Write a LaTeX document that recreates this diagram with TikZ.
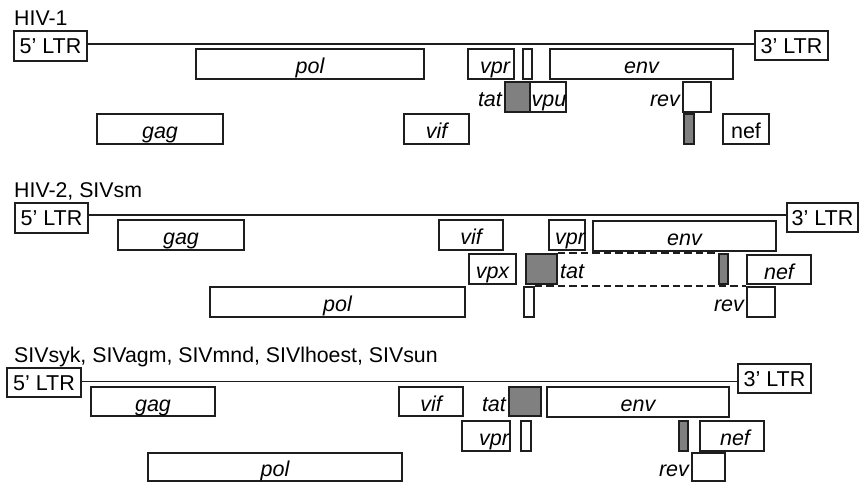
\documentclass[tikz,border=0pt]{standalone}
\usepackage{fontspec}
\setmainfont{Liberation Sans}
\definecolor{ink}{HTML}{1E1E1E}
\definecolor{geneg}{HTML}{808080}
\newcommand{\gb}[7][]{\node[gene,#1,minimum width={#5-#3},minimum height={#6-#4}] (#2) at ({(#3+#5)/2},{(#4+#6)/2}) {#7};}
\tikzset{
  gene/.style={draw=ink, line width=1.8pt, rectangle, inner sep=0pt, fill=white,
    font=\fontsize{21.5}{25}\selectfont\itshape, text height=19pt, text depth=0pt},
  ltr/.style={font=\fontsize{21.5}{25}\selectfont, text height=15.2pt},
  upright/.style={font=\fontsize{21.5}{25}\selectfont},
  graybox/.style={fill=geneg},
  lbl/.style={font=\fontsize{21.5}{25}\selectfont\itshape, text height=19pt, text depth=0pt, inner sep=0pt, inner xsep=2pt},
  ttl/.style={font=\fontsize{21.3}{25}\selectfont, inner sep=0pt, anchor=base west},
  genome/.style={line width=1.8pt, draw=ink},
  dashline/.style={line width=1.8pt, draw=ink, dash pattern=on 7.5pt off 4pt}
}
\begin{document}
\begin{tikzpicture}[x=1pt,y=-1pt]
\useasboundingbox[fill=white] (0,0) rectangle (859,482);
% ---------------- HIV-1
\node[ttl] (t1) at (14,25) {HIV-1};
\gb[ltr]{l5a}{14}{31}{87}{61}{5’ LTR}
\gb[ltr]{l3a}{755}{31}{828}{60}{3’ LTR}
\draw[genome] ([yshift=2pt]l5a.east) -- ([yshift=2pt]l5a.east -| l3a.west);
\gb{pol1}{196}{49}{424}{79}{pol}
\gb{vpr1}{468}{49}{514}{79}{\hspace*{8pt}vpr}
\gb{x1}{523}{49}{532}{79}{}
\gb{env1}{550}{49}{733}{79}{env}
\gb[graybox]{tat1}{505}{82}{530}{112}{}
\gb{vpu1}{530}{82}{566}{112}{\hspace*{2pt}vpu}
\gb{rev1}{683}{82}{711}{112}{}
\gb[graybox]{revx1}{684}{114}{694}{144}{}
\gb{gag1}{97}{114}{223}{144}{gag}
\gb{vif1}{404}{114}{469}{144}{vif}
\gb[upright]{nef1}{723}{114}{769}{144}{nef}
\node[lbl,anchor=east] (tl1) at (tat1.west) {tat};
\node[lbl,anchor=east] (rl1) at (rev1.west) {rev};
% ---------------- HIV-2, SIVsm
\node[ttl] (t2) at (14,197) {HIV-2, SIVsm};
\gb[ltr]{l5b}{15}{203}{88}{233}{5’ LTR}
\gb[ltr]{l3b}{787}{203}{858}{232}{3’ LTR}
\draw[genome] ([yshift=3pt]l5b.east) -- ([yshift=3pt]l5b.east -| l3b.west);
\gb{gag2}{118}{220}{244}{250}{gag}
\gb{vif2}{439}{220}{503}{250}{vif}
\gb{vpr2}{549}{220}{585}{250}{\hspace*{6pt}vpr}
\gb{env2}{593}{221}{776}{251}{env}
\gb{vpx2}{469}{254}{516}{284}{vpx}
\gb[graybox]{tat2}{526}{254}{557}{284}{}
\gb[graybox]{revx2}{719}{254}{728}{284}{}
\gb{nef2}{747}{255}{811}{284}{nef}
\gb{pol2}{210}{287}{465}{317}{pol}
\gb{x2}{524}{287}{534}{317}{}
\gb{rev2}{747}{287}{775}{317}{}
\node[lbl,anchor=west] (tl2) at (tat2.east) {tat};
\node[lbl,anchor=east] (rl2) at (rev2.west) {rev};
\draw[dashline] (tat2.north east) -- (revx2.north west);
\draw[dashline] (x2.north east) -- (rev2.north west);
% ---------------- SIVsyk etc.
\node[ttl] (t3) at (14,362) {SIVsyk, SIVagm, SIVmnd, SIVlhoest, SIVsun};
\gb[ltr]{l5c}{7}{368}{81}{397}{5’ LTR}
\gb[ltr]{l3c}{738}{364}{811}{393}{3’ LTR}
\draw[genome] ([yshift=1pt]l5c.east) -- ([yshift=1pt]l5c.east -| l3c.west);
\gb{gag3}{91}{387}{215}{416}{gag}
\gb{vif3}{399}{387}{463}{416}{vif}
\gb[graybox]{tat3}{509}{387}{541}{416}{}
\gb{env3}{547}{387}{729}{417}{env}
\gb{vpr3}{462}{421}{510}{451}{\hspace*{16pt}vpr}
\gb{x3}{521}{421}{531}{451}{}
\gb[graybox]{revx3}{679}{421}{688}{451}{}
\gb{nef3}{700}{421}{764}{451}{\hspace*{6pt}nef}
\gb{pol3}{148}{453}{402}{481}{pol}
\gb{rev3}{692}{453}{725}{481}{}
\node[lbl,anchor=east] (tl3) at (tat3.west) {tat};
\node[lbl,anchor=east] (rl3) at (rev3.west) {rev};
\end{tikzpicture}
\end{document}
